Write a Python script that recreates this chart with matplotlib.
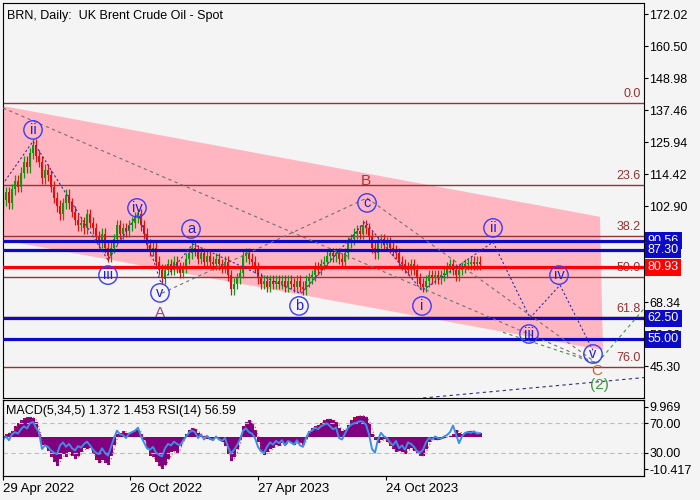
import matplotlib.pyplot as plt
import numpy as np
import pandas as pd
from matplotlib.transforms import blended_transform_factory

plt.rcParams['font.family'] = ['Liberation Sans', 'DejaVu Sans']

title = "BRN, Daily:  UK Brent Crude Oil - Spot"
indicator_text = "MACD(5,34,5) 1.372 1.453 RSI(14) 56.59"

# Brent closes, one every 3 trading days from 29 Apr 2022
closes = [105, 108, 104, 109, 112, 110, 115, 119, 117, 122,
          125, 121, 119, 113, 116, 114, 110, 106, 103, 100,
          104, 107, 104, 101, 98, 96, 97, 95, 100, 97,
          95, 92, 90, 93, 88, 85, 88, 91, 96, 93,
          95, 94, 96, 97, 99, 100, 96, 93, 89, 87,
          88, 83, 80, 77, 80, 82, 80, 83, 81, 79,
          81, 84, 86, 88, 87, 84, 86, 83, 85, 83,
          82, 84, 82, 81, 83, 78, 73, 75, 77, 79,
          85, 86, 84, 83, 81, 77, 75, 76, 74, 76,
          75, 76, 75, 76, 74, 76, 75, 74, 76, 74,
          73, 76, 77, 78, 81, 80, 82, 83, 85, 86,
          85, 86, 84, 83, 86, 90, 91, 93, 94, 93,
          96, 95, 92, 88, 86, 90, 91, 89, 90, 88,
          87, 86, 83, 82, 81, 80, 82, 80, 77, 75,
          74, 76, 78, 77, 78, 77, 78, 79, 81, 82,
          80, 78, 80, 81, 82, 82, 83, 82, 83, 82]

# MACD(5,34,5) histogram, same sampling
macd = [0.5, 1.0, 1.5, 2.0, 3.5, 4.5, 5.5, 6.3, 6.5, 6.5,
        6.3, 5.0, 1.0, -2.5, -3.0, -4.5, -6.5, -8.0, -9.4, -7.0,
        -5.5, -6.5, -5.0, -6.0, -7.0, -6.0, -5.0, -3.5, -4.0, -3.5,
        -5.5, -7.5, -8.5, -7.5, -8.5, -9.0, -6.0, -2.5, 1.0, 1.5,
        2.0, 1.5, 1.0, 1.8, 2.3, 2.5, 1.0, -1.0, -3.5, -6.0,
        -6.5, -8.0, -9.5, -10.5, -9.0, -7.0, -5.0, -4.5, -5.5, -3.0,
        -1.0, 1.0, 2.5, 3.0, 2.8, 1.5, 0.5, 0.3, -0.5, -1.0,
        -0.5, 0.2, -0.5, -1.5, -3.0, -5.5, -7.7, -6.5, -4.0, -1.0,
        3.5, 5.0, 5.5, 4.5, 2.5, -1.5, -4.5, -5.7, -5.0, -4.0,
        -3.5, -2.5, -3.0, -2.0, -2.5, -1.5, -2.0, -2.5, -1.5, -2.0,
        -2.5, -0.5, 2.0, 3.0, 3.5, 4.0, 4.5, 5.5, 6.0, 6.0,
        5.5, 5.0, 3.0, 2.0, 2.5, 4.0, 5.5, 6.5, 7.0, 7.0,
        7.0, 6.5, 4.5, 1.0, -1.0, -2.0, -1.0, -0.5, -1.5, -3.0,
        -4.0, -5.0, -4.5, -5.0, -5.5, -4.0, -3.5, -4.5, -5.5, -6.3,
        -6.0, -4.0, -1.5, -0.5, -1.0, -0.8, -0.5, -0.3, 0.2, 0.5,
        1.0, 2.5, 1.5, 1.0, 1.5, 2.0, 2.0, 1.8, 1.5, 1.4]

# RSI(14), same sampling
rsi = [48, 52, 47, 55, 58, 56, 62, 66, 63, 70,
       72, 64, 58, 35, 40, 38, 33, 30, 28, 40,
       44, 38, 42, 36, 33, 39, 37, 42, 45, 40,
       34, 30, 28, 36, 30, 26, 38, 50, 60, 55,
       54, 50, 56, 58, 60, 64, 52, 44, 36, 34,
       38, 30, 27, 25, 36, 42, 40, 45, 42, 40,
       46, 52, 57, 60, 58, 50, 55, 48, 53, 49,
       47, 52, 48, 46, 50, 38, 29, 34, 40, 48,
       60, 63, 58, 56, 50, 38, 32, 30, 38, 44,
       41, 46, 43, 47, 40, 46, 44, 41, 47, 40,
       38, 50, 58, 60, 64, 62, 66, 68, 70, 66,
       62, 64, 50, 48, 56, 64, 68, 70, 71, 73,
       72, 68, 55, 35, 30, 48, 57, 52, 50, 44,
       40, 46, 36, 40, 34, 44, 42, 38, 32, 30,
       34, 44, 50, 48, 52, 50, 49, 52, 54, 58,
       67, 55, 43, 52, 57, 58, 57, 59, 56, 56.6]

price_ticks = [172.02, 160.50, 148.98, 137.46, 125.94, 114.42, 102.90,
               91.38, 79.86, 68.34, 56.82, 45.30]
date_ticks = [0, 127, 255, 383]
date_labels = ["29 Apr 2022", "26 Oct 2022", "27 Apr 2023", "24 Oct 2023"]

fib_high = 140.1
fib_low = 15.1
fib_levels = [0.0, 23.6, 38.2, 50.0, 61.8, 76.0]

blue_levels = [90.56, 87.30, 62.50, 55.00]
last_price = 80.93

# wave path (bar index, price)
wave_bar = [2, 30, 105, 135, 158, 190, 298, 362, 419, 490, 527, 557, 590]
wave_price = [112, 126.3, 83.5, 100.5, 75.2, 89.3, 71.4, 97.3, 72.5, 90.0, 62.7, 74.5, 51.0]

wave_labels = [("ii", 30, 130.4), ("iii", 105, 78.1), ("iv", 134, 102.3), ("v", 157, 71.7),
               ("a", 188, 94.7), ("b", 296, 67.0), ("c", 364, 104.1), ("i", 419, 67.0),
               ("ii", 490, 95.1), ("iii", 526, 56.9), ("iv", 556, 78.1), ("v", 590, 49.7)]

step = 3
bars = np.arange(len(closes)) * step
opens = [103] + closes[:-1]

bg = '#f4f4f4'
fig = plt.figure(figsize=(7, 5), dpi=100, facecolor=bg)
ax = fig.add_axes([3 / 700, 102 / 500, 641 / 700, 395 / 500], facecolor=bg)
ax.set_xlim(0, 641)
ax.set_ylim(33.85, 176.09)

# descending channel
ax.fill([0, 597, 600, 0], [139.0, 99.1, 51.1, 90.7], color='#ffb6c1', lw=0, zorder=0.5)

# fibonacci levels
for lv in fib_levels:
    p = fib_high - lv / 100 * (fib_high - fib_low)
    ax.axhline(p, color='#963232', lw=1, zorder=1)
    ax.text(638, p + 1.0, f"{lv:.1f}", color='#963232', fontsize=9, ha='right', va='bottom', zorder=1)

# candles
wick = 2.0
for x, o, c in zip(bars, opens, closes):
    col = '#129412' if c >= o else '#e01010'
    ax.vlines(x, min(o, c) - wick, max(o, c) + wick, color=col, lw=0.9, zorder=2)
    ax.bar(x, max(abs(c - o), 0.6), bottom=min(o, c), width=2.2, color=col, lw=0, zorder=2)

for lv in blue_levels:
    ax.axhline(lv, color='#0a0ac8', lw=2.3, zorder=3)
ax.axhline(last_price, color='#ff0000', lw=2.3, zorder=3)

# trend / wave lines
ax.plot([0, 594], [138.3, 46.3], color='#707070', lw=0.8, ls=(0, (3, 3)), zorder=4)
ax.plot([159, 364], [71.6, 105.9], color='#707070', lw=0.8, ls=(0, (3, 3)), zorder=4)
ax.plot([364, 594], [105.9, 46.3], color='#707070', lw=0.8, ls=(0, (3, 3)), zorder=4)
ax.plot([500, 594, 641], [57.5, 46.3, 66.0], color='#3c9a3c', lw=0.8, ls=(0, (3, 3)), zorder=4)
ax.plot([420, 641], [33.85, 41.2], color='#3a2a7a', lw=0.8, ls=(0, (3, 3)), zorder=4)
ax.plot(wave_bar, wave_price, color='#3030a0', lw=0.8, ls=(0, (2, 2)), zorder=4)

# wave labels in circles
lx = [w[1] for w in wave_labels]
ly = [w[2] for w in wave_labels]
ax.scatter(lx, ly, s=175, facecolors='none', edgecolors='#3a3aff', linewidths=1, zorder=5)
for txt, x, y in wave_labels:
    ax.text(x, y, txt, color='#2020d8', fontsize=10.5, ha='center', va='center', zorder=6)

ax.text(157, 64.4, "A", color='#9a4a7a', fontsize=11, ha='center', va='center', zorder=6)
ax.text(363, 112.0, "B", color='#a33b3b', fontsize=11, ha='center', va='center', zorder=6)
ax.text(594, 43.5, "C", color='#c8643c', fontsize=11, ha='center', va='center', zorder=6)
ax.text(596, 38.6, "(2)", color='#3c9a3c', fontsize=11, ha='center', va='center', zorder=6)

ax.text(0.007, 0.983, title, transform=ax.transAxes, fontsize=9, ha='left', va='top')

ax.set_xticks([])
ax.yaxis.tick_right()
ax.set_yticks(price_ticks)
ax.set_yticklabels([f"{t:.2f}" for t in price_ticks])
ax.tick_params(axis='y', labelsize=9, length=3, pad=1, direction='out')

# price boxes on the right scale
trans = blended_transform_factory(ax.transAxes, ax.transData)
boxes = [(90.56, '#0a0ac8'), (87.30, '#0a0ac8'), (last_price, '#ff0000'),
         (62.50, '#0a0ac8'), (55.00, '#0a0ac8')]
for i, (lv, col) in enumerate(boxes):
    ax.text(1.006, lv, f"{lv:.2f}", transform=trans, color='white', fontsize=9,
            ha='left', va='center', zorder=10 + i,
            bbox=dict(boxstyle='square,pad=0.2', fc=col, ec='none'))

# MACD / RSI panel
axm = fig.add_axes([3 / 700, 24 / 500, 641 / 700, 76 / 500], facecolor=bg)
axm.set_xlim(0, 641)
axm.set_ylim(-12.70, 12.17)
axm.bar(bars, macd, width=3, color='#800080', lw=0)
signal = pd.Series(macd).rolling(2, min_periods=1).mean()
axm.plot(bars, signal, color='#ff2020', lw=0.8, ls=(0, (1, 2)))
axm.set_xticks(date_ticks)
axm.set_xticklabels(date_labels, ha='left')
axm.tick_params(axis='x', labelsize=9.5, length=3, pad=2)

axr = axm.twinx()
axr.set_ylim(-1.7, 101.7)
for lv in (70, 30):
    axr.axhline(lv, color='#bdbdbd', lw=0.8, ls=(0, (4, 3)))
axr.plot(bars, rsi, color='#3a8ee8', lw=1.4)
axr.set_yticks([70, 30])
axr.set_yticklabels(["70.00", "30.00"])
axr.tick_params(axis='y', labelsize=9, length=3, pad=1)

axm.yaxis.tick_right()
axm.set_yticks([9.969, -10.417])
axm.set_yticklabels(["9.969", "-10.417"])
axm.tick_params(axis='y', labelsize=9, length=3, pad=1)
axm.text(0.005, 0.93, indicator_text, transform=axm.transAxes, fontsize=9, ha='left', va='top')

fig.savefig("out.png", dpi=100, facecolor=bg)
